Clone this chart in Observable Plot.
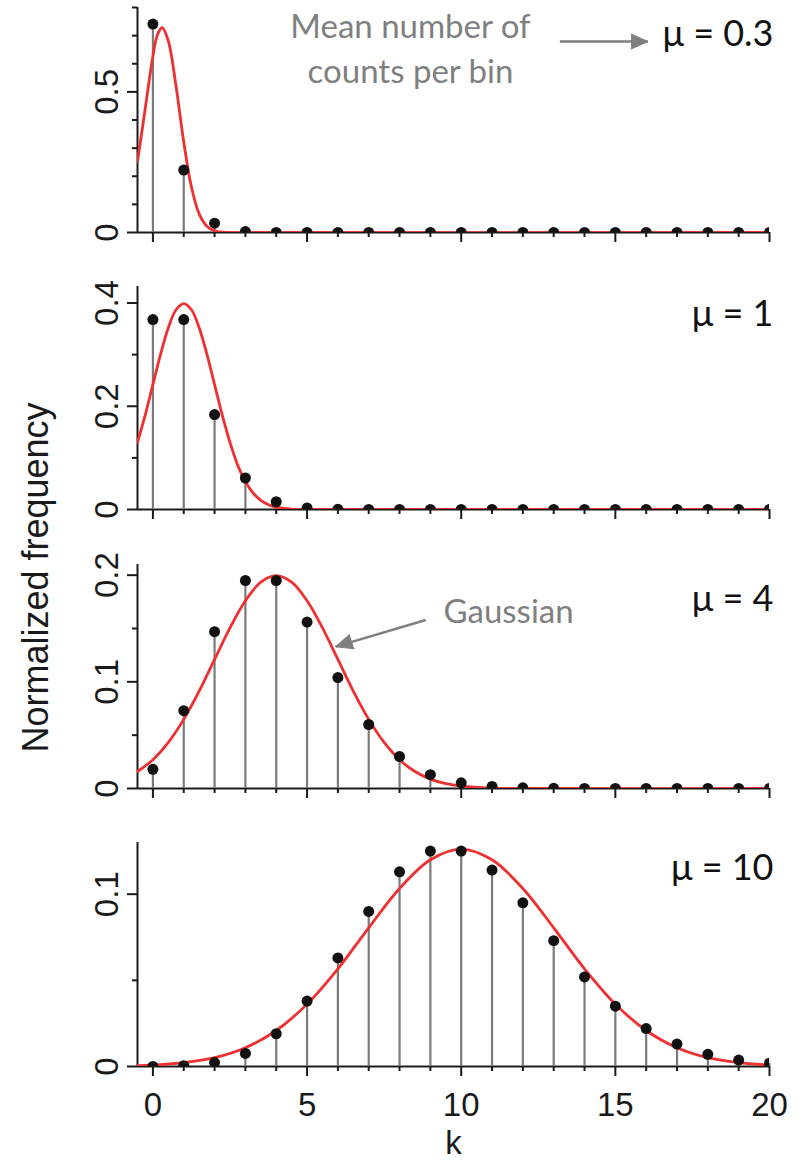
<!DOCTYPE html>
<html>
<head>
<meta charset="utf-8">
<script src="https://cdn.jsdelivr.net/npm/d3@7"></script>
<script src="https://cdn.jsdelivr.net/npm/@observablehq/plot@0.6"></script>
<style>
  body { margin: 0; background: #fff; }
  #chart { position: relative; width: 802px; height: 1161px; overflow: hidden; background: #fff; }
  #chart svg { position: absolute; left: 0; }
</style>
</head>
<body>
<div id="chart"></div>
<script>
// Number of counts k per bin
const k = [0, 1, 2, 3, 4, 5, 6, 7, 8, 9, 10, 11, 12, 13, 14, 15, 16, 17, 18, 19, 20];
const kMajor = [0, 5, 10, 15, 20];

// Observed normalized frequencies for each mean count
const freqMu03 = [0.741, 0.222, 0.033, 0.0033, 0.0003, 0, 0, 0, 0, 0, 0, 0, 0, 0, 0, 0, 0, 0, 0, 0, 0];
const freqMu1  = [0.368, 0.368, 0.184, 0.061, 0.015, 0.0031, 0.0005, 0.0001, 0, 0, 0, 0, 0, 0, 0, 0, 0, 0, 0, 0, 0];
const freqMu4  = [0.018, 0.073, 0.147, 0.195, 0.195, 0.156, 0.104, 0.060, 0.030, 0.013, 0.0053, 0.0019, 0.0006, 0.0002, 0.0001, 0, 0, 0, 0, 0, 0];
const freqMu10 = [0.00005, 0.0005, 0.0023, 0.0076, 0.019, 0.038, 0.063, 0.090, 0.113, 0.125, 0.125, 0.114, 0.095, 0.073, 0.052, 0.035, 0.022, 0.013, 0.0071, 0.0037, 0.0019];

// Gaussian overlays (sampled along k)
const gaussMu03X = [-0.5, -0.25, 0, 0.15, 0.3, 0.5, 0.75, 1, 1.25, 1.5, 1.75, 2, 2.5, 3, 20];
const gaussMu03Y = [0.251, 0.440, 0.627, 0.704, 0.728, 0.681, 0.520, 0.322, 0.162, 0.066, 0.022, 0.006, 0.0002, 0, 0];
const gaussMu1X = [-0.5, -0.25, 0, 0.25, 0.5, 0.75, 1, 1.25, 1.5, 1.75, 2, 2.25, 2.5, 2.75, 3, 3.25, 3.5, 3.75, 4, 4.5, 5, 6, 20];
const gaussMu1Y = [0.130, 0.183, 0.242, 0.301, 0.352, 0.387, 0.399, 0.387, 0.352, 0.301, 0.242, 0.183, 0.130, 0.086, 0.054, 0.032, 0.0175, 0.0091, 0.0044, 0.0009, 0.0001, 0, 0];
const gaussMu4X = [-0.5, 0, 0.5, 1, 1.5, 2, 2.5, 3, 3.5, 4, 4.5, 5, 5.5, 6, 6.5, 7, 7.5, 8, 8.5, 9, 9.5, 10, 11, 12, 13, 20];
const gaussMu4Y = [0.0159, 0.027, 0.0432, 0.0648, 0.0913, 0.121, 0.1506, 0.176, 0.1934, 0.1995, 0.1934, 0.176, 0.1506, 0.121, 0.0913, 0.0648, 0.0432, 0.027, 0.0159, 0.0088, 0.0045, 0.0022, 0.0004, 0.0001, 0, 0];
const gaussMu10X = [-0.5, 0, 1, 2, 3, 4, 5, 6, 7, 8, 9, 10, 11, 12, 13, 14, 15, 16, 17, 18, 19, 20];
const gaussMu10Y = [0.0005, 0.00085, 0.0022, 0.0051, 0.0109, 0.0209, 0.0362, 0.0567, 0.0805, 0.1033, 0.120, 0.1262, 0.120, 0.1033, 0.0805, 0.0567, 0.0362, 0.0209, 0.0109, 0.0051, 0.0022, 0.00085];

// Annotation arrows (k, frequency)
const meanArrow = [{k1: 13.2, v1: 0.679, k2: 16.06, v2: 0.679}];
const gaussArrow = [{k1: 8.85, v1: 0.158, k2: 5.93, v2: 0.133}];

const ink = "#1a1a1a";
const stemGray = "#7b7b7b";
const noteGray = "#7f7f7f";
const red = "#ee3030";
const sans = "'Liberation Sans', Arial, sans-serif";
const humanist = "Lato, 'Open Sans', sans-serif";

function arrow(data, rotate) {
  return [
    Plot.link(data, {x1: "k1", y1: "v1", x2: "k2", y2: "v2", stroke: noteGray, strokeWidth: 2.5}),
    Plot.vector(data, {x: "k2", y: "v2", rotate, length: 17, r: 7.5, shape: "spike", anchor: "end",
      fill: noteGray, stroke: noteGray, strokeWidth: 1})
  ];
}

function panel(cfg) {
  const counts = k.map((kk, i) => ({k: kk, p: cfg.freq[i]}));
  const curve = cfg.gx.map((x, i) => ({x, y: cfg.gy[i]}));
  const kMinor = k.filter(d => !kMajor.includes(d));
  const svg = Plot.plot({
    width: 802,
    height: cfg.height,
    marginLeft: 137,
    marginRight: 33,
    marginTop: cfg.marginTop,
    marginBottom: cfg.marginBottom,
    style: {fontFamily: sans, fontSize: "33px", color: ink, background: "transparent", overflow: "visible"},
    x: {domain: [-0.5, 20], axis: null},
    y: {domain: [0, cfg.yMax], axis: null},
    marks: [
      Plot.ruleX([-0.5], {stroke: ink, strokeWidth: 2}),
      Plot.ruleY([0], {stroke: ink, strokeWidth: 2}),
      Plot.axisY({ticks: cfg.yMinor, tickSize: 5, tickFormat: () => "", color: ink, strokeWidth: 2}),
      Plot.axisY({ticks: cfg.yMajor, tickSize: 10, tickFormat: () => "", color: ink, strokeWidth: 2}),
      Plot.text(cfg.yMajor, {y: d => d, frameAnchor: "left", text: d => String(d), rotate: -90,
        textAnchor: "middle", lineAnchor: "bottom", dx: -20, fontSize: 33, fill: ink}),
      Plot.axisX({ticks: kMinor, tickSize: 5, tickFormat: () => "", color: ink, strokeWidth: 2}),
      Plot.axisX({ticks: kMajor, tickSize: 10, tickPadding: 16, color: ink, strokeWidth: 2, fontSize: 33,
        tickFormat: cfg.xLabels ? d => String(d) : () => ""}),
      Plot.ruleX(counts, {x: "k", y1: 0, y2: "p", stroke: stemGray, strokeWidth: 2.2}),
      Plot.line(curve, {x: "x", y: "y", stroke: red, strokeWidth: 2.8, curve: "catmull-rom", clip: true}),
      Plot.dot(counts, {x: "k", y: "p", r: 5.5, fill: "#111", clip: true}),
      Plot.text([cfg.label], {text: d => d, frameAnchor: "top-right", textAnchor: "end", lineAnchor: "bottom",
        dx: 4, dy: cfg.labelDy, fontSize: 36, fontFamily: humanist, fill: "#111"}),
      ...(cfg.extra || [])
    ]
  });
  svg.style.top = cfg.top + "px";
  document.getElementById("chart").appendChild(svg);
}

panel({
  freq: freqMu03, gx: gaussMu03X, gy: gaussMu03Y, label: "μ = 0.3", labelDy: 38,
  yMax: 0.8, yMajor: [0, 0.5], yMinor: [0.1, 0.2, 0.3, 0.4, 0.6, 0.7, 0.8],
  top: 0, marginTop: 7, height: 252, marginBottom: 20,
  extra: [
    Plot.text(["Mean number of\ncounts per bin"], {text: d => d, frameAnchor: "top", textAnchor: "middle",
      lineAnchor: "bottom", lineHeight: 1.36, dx: -43, dy: 75, fontSize: 33, fontFamily: humanist, fill: noteGray}),
    ...arrow(meanArrow, 90)
  ]
});

panel({
  freq: freqMu1, gx: gaussMu1X, gy: gaussMu1Y, label: "μ = 1", labelDy: 39,
  yMax: 0.432, yMajor: [0, 0.2, 0.4], yMinor: [0.1, 0.3],
  top: 266, marginTop: 20, height: 263, marginBottom: 20
});

panel({
  freq: freqMu4, gx: gaussMu4X, gy: gaussMu4Y, label: "μ = 4", labelDy: 46,
  yMax: 0.21, yMajor: [0, 0.1, 0.2], yMinor: [0.05, 0.15],
  top: 544, marginTop: 20, height: 264, marginBottom: 20,
  extra: [
    Plot.text(["Gaussian"], {text: d => d, frameAnchor: "top-left", textAnchor: "start", lineAnchor: "bottom",
      dx: 306, dy: 58, fontSize: 33, fontFamily: humanist, fill: noteGray}),
    ...arrow(gaussArrow, 253),
    Plot.text(["Normalized frequency"], {text: d => d, frameAnchor: "top-left", rotate: -90,
      textAnchor: "middle", lineAnchor: "bottom", dx: -90, dy: 13, fontSize: 36, fill: ink})
  ]
});

panel({
  freq: freqMu10, gx: gaussMu10X, gy: gaussMu10Y, label: "μ = 10", labelDy: 37,
  yMax: 0.13, yMajor: [0, 0.1], yMinor: [0.05],
  top: 822, marginTop: 20, height: 339, marginBottom: 95, xLabels: true,
  extra: [
    Plot.text(["k"], {text: d => d, frameAnchor: "bottom", lineAnchor: "bottom", dy: 87, fontSize: 33, fill: ink})
  ]
});
</script>
</body>
</html>
